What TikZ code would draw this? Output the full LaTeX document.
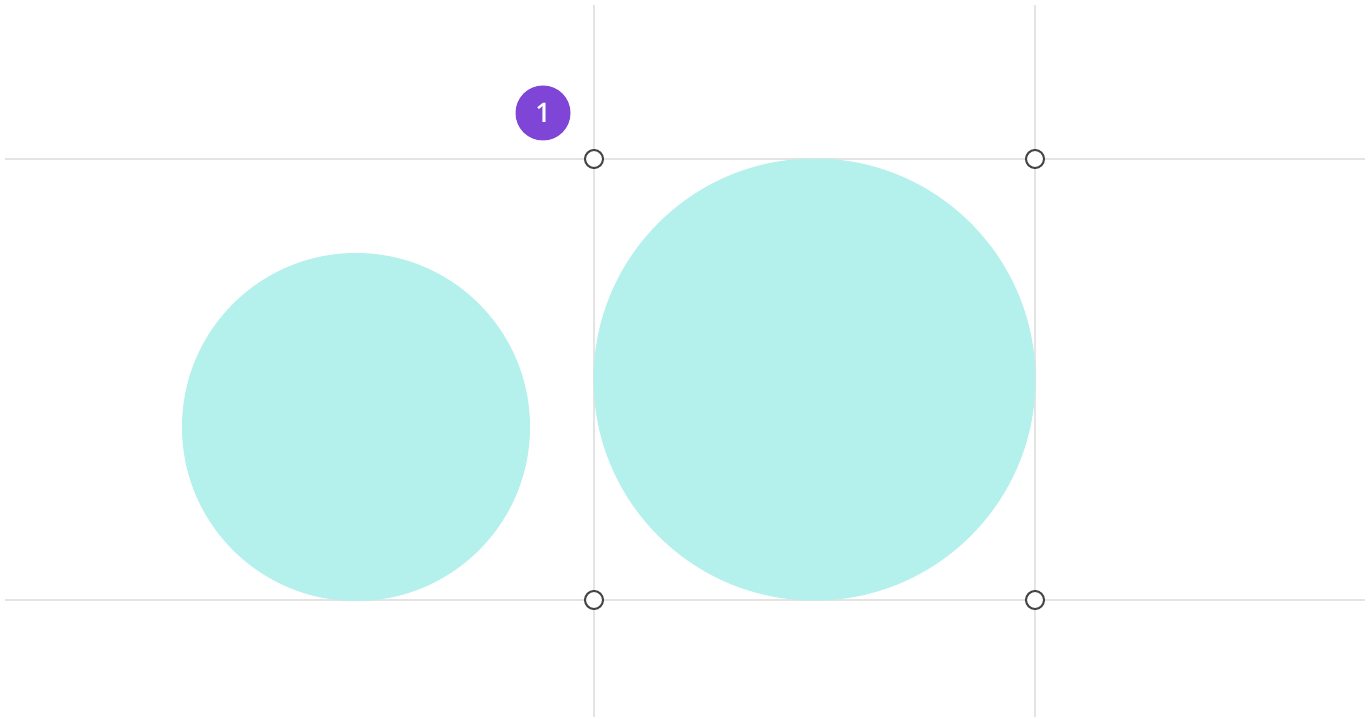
\documentclass[tikz,border=0pt]{standalone}
\usepackage{fontspec}
\setsansfont{Open Sans}[BoldFont={* Semibold}]
\definecolor{gridgray}{HTML}{E4E4E4}
\definecolor{shapefill}{HTML}{B4F0EC}
\definecolor{badgepurple}{HTML}{7E45D6}
\definecolor{handlegray}{HTML}{444444}
\tikzset{
  guide/.style={draw=gridgray, line width=2.4pt},
  disc/.style={circle, fill=shapefill, inner sep=0pt},
  handle/.style={circle, draw=handlegray, fill=white, line width=2pt, minimum size=18pt, inner sep=0pt},
  badge/.style={circle, fill=badgepurple, text=white, minimum size=55pt, inner sep=0pt, font=\sffamily\bfseries\fontsize{27}{27}\selectfont},
}
\begin{document}
\begin{tikzpicture}[x=1pt,y=-1pt]
\useasboundingbox[fill=white] (0,0) rectangle (1371,719);
% guide lines
\coordinate (hl1) at (5,159);   \coordinate (hr1) at (1365,159);
\coordinate (hl2) at (5,600);   \coordinate (hr2) at (1365,600);
\coordinate (vt1) at (594,5);   \coordinate (vb1) at (594,717);
\coordinate (vt2) at (1035,5);  \coordinate (vb2) at (1035,717);
\draw[guide] (hl1) -- (hr1);
\draw[guide] (hl2) -- (hr2);
\draw[guide] (vt1) -- (vb1);
\draw[guide] (vt2) -- (vb2);
% shapes
\node[disc, minimum size=348pt] (small) at (356,427) {};
\node[disc, minimum size=442pt] (big) at (814.5,379.5) {};
% handles
\node[handle] (h1) at (594,159) {};
\node[handle] (h2) at (1035,159) {};
\node[handle] (h3) at (594,600) {};
\node[handle] (h4) at (1035,600) {};
% badge
\node[badge] (b) at (543,113) {1};
\end{tikzpicture}
\end{document}
